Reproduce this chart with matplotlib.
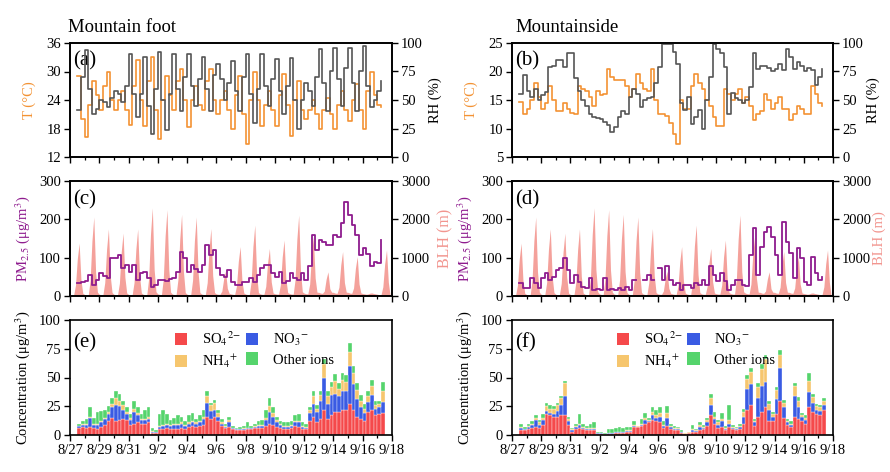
import numpy as np
import matplotlib
matplotlib.use("Agg")
import matplotlib.pyplot as plt
from matplotlib.ticker import MultipleLocator, FixedLocator
from matplotlib.patches import Patch

plt.rcParams['font.family'] = ['Liberation Serif', 'DejaVu Serif']
plt.rcParams['mathtext.fontset'] = 'stix'

# ---------------- data ----------------
# x axis: days since 8/27 00:00
date_ticks = [0, 2, 4, 6, 8, 10, 12, 14, 16, 18, 20, 22]
date_labels = ['8/27', '8/29', '8/31', '9/2', '9/4', '9/6', '9/8', '9/10',
               '9/12', '9/14', '9/16', '9/18']
series_start = 0.5      # first 6-h record: 8/27 12:00
step_6h = 0.25
step_3h = 0.125

# Mountain foot: temperature (deg C) and RH (%), 6-hourly
T_foot = [29, 20,
          16.3, 23, 28, 25, 22, 27, 30, 24, 22, 24, 26, 22, 18.7, 27, 32.5, 24,
          18.5, 28, 33, 22, 15.8, 24, 29, 25, 22, 28, 30.5, 24, 18.3, 24, 27, 23,
          22, 28, 30.5, 24, 21, 24, 26, 22, 18, 25, 29, 21, 14.8, 24, 30, 24,
          18.5, 23, 26, 22, 18.5, 25, 29.5, 23, 16.5, 24, 28, 22, 20, 22, 24, 21,
          18, 22, 24.5, 21, 18, 23, 26, 22, 19.5, 24, 27.3, 22, 18, 26, 30, 25,
          23, 22.5]
RH_foot = [41, 70,
           94, 60, 38, 42, 50, 48, 44, 52, 58, 55, 48, 62, 90, 55, 35, 55,
           88, 45, 20, 60, 92, 50, 24, 55, 90, 60, 40, 70, 90, 62, 45, 68,
           88, 60, 40, 72, 82, 68, 50, 65, 84, 58, 40, 70, 90, 55, 30, 60,
           90, 62, 45, 68, 86, 58, 38, 62, 87, 50, 25, 50, 65, 58, 45, 70,
           95, 65, 40, 75, 96, 68, 45, 78, 96, 65, 40, 75, 97, 62, 44, 50,
           58, 67]

# Mountainside: temperature (deg C) and RH (%), 6-hourly
T_side = [14.6, 12.5, 13.5, 15, 18, 15.5, 13.5, 14.5, 17.5, 15, 13, 13,
          14.5, 13.5, 12.8, 12.5, 17.5, 17, 16.5, 15.5, 14, 16.5, 15.8, 16,
          20.5, 19, 18.5, 18.5, 18.5, 17.5, 15.5, 17, 19.5, 18, 17, 16.5,
          20.5, 15, 12.5, 12.5, 12.2, 11, 9, 7.3, 15, 13.5, 13.5, 17.5,
          19.5, 18, 17, 15, 14, 12, 10.5, 10.5, 17, 16, 15, 16,
          17, 14.5, 15.5, 14, 11.5, 12.5, 13, 16, 15, 13.5, 14.5, 15.5,
          13.5, 13.5, 11.5, 12.5, 14, 13.5, 12.5, 12.5, 17.5, 16, 14.5, 14]
RH_side = [55, 72, 58, 53, 60, 50, 54, 57, 79, 80, 85, 85,
           79, 91, 91, 69, 58, 50, 45, 38, 35, 34, 33, 31,
           28, 22, 26, 35, 40, 38, 53, 60, 55, 44, 50, 52,
           53, 65, 79, 99, 99, 99, 92, 82, 47, 41, 53, 29,
           35, 41, 25, 50, 70, 99, 95, 91, 79, 38, 56, 52,
           50, 47, 50, 61, 91, 77, 80, 80, 78, 75, 77, 82,
           76, 95, 88, 77, 83, 80, 75, 78, 76, 63, 70, 77]

# PM2.5 (ug/m3), 6-hourly
PM_foot = [33, 37, 40, 55, 29, 42, 59, 52, 48, 98, 100, 107,
           72, 81, 63, 81, 42, 60, 63, 46, 24, 30, 42, 42,
           40, 44, 46, 63, 116, 98, 63, 81, 70, 63, 81, 133,
           107, 120, 72, 55, 50, 68, 37, 29, 29, 37, 37, 46,
           37, 55, 72, 81, 81, 59, 50, 63, 33, 40, 59, 46,
           42, 59, 42, 77, 159, 120, 146, 140, 133, 133, 159, 155,
           190, 246, 211, 185, 159, 107, 124, 110, 77, 90, 85, 146]
PM_side = [33, 20, 22, 46, 33, 20, 46, 59, 42, 50, 68, 72,
           98, 68, 33, 55, 37, 24, 20, 46, 16, 18, 16, 46,
           16, 18, 16, 20, 16, 24, 16, 42, np.nan, np.nan, 42, 55,
           42, np.nan, 72, 42, 77, 42, 29, 33, 16, 29, 29, 20,
           33, 29, 42, 29, 77, 55, 38, 59, 38, 16, 29, 42,
           42, 29, 26, 107, 177, 55, 129, 168, 181, 155, 107, 55,
           194, 142, 112, 47, 124, 98, 37, 29, 103, 59, 42, 50]

# Boundary layer height (m), 3-hourly from 8/27 00:00
BLH = [30, 25, 30, 280, 970, 1380, 410, 70,
       40, 30, 35, 410, 1440, 2060, 620, 100,
       45, 35, 35, 350, 1220, 1750, 520, 90,
       45, 35, 35, 330, 1150, 1640, 490, 80,
       40, 35, 35, 350, 1220, 1750, 520, 80,
       45, 35, 40, 460, 1610, 2300, 690, 110,
       55, 40, 40, 450, 1570, 2250, 680, 100,
       50, 40, 40, 430, 1490, 2130, 640, 90,
       45, 35, 35, 410, 1440, 2060, 620, 90,
       50, 40, 40, 350, 1230, 1760, 530, 90,
       55, 45, 45, 130, 450, 650, 200, 70,
       55, 45, 40, 260, 900, 1290, 390, 80,
       50, 40, 40, 370, 1300, 1850, 560, 90,
       55, 45, 45, 250, 870, 1240, 370, 80,
       60, 50, 50, 290, 1020, 1460, 440, 90,
       65, 50, 50, 420, 1480, 2110, 630, 110,
       75, 60, 55, 310, 1080, 1550, 470, 100,
       95, 75, 70, 130, 440, 630, 190, 100,
       95, 75, 70, 230, 810, 1160, 350, 100,
       95, 75, 70, 210, 720, 1030, 310, 80,
       65, 55, 45, 55, 75, 80, 65, 55,
       45, 35, 35, 240, 840, 1200, 360, 0]

# Water-soluble ions (ug/m3), 6-hourly, Mountain foot
SO4_foot = [6, 7, 6, 7, 6, 5, 7, 9, 12, 15, 12, 13, 14, 13, 9, 10, 11, 10, 10, 11,
            2, 2, 5, 5, 6, 5, 5, 5, 6, 5, 7, 8, 7, 8, 9, 16, 14, 16, 12, 8,
            6, 7, 5, 4, 4, 4, 5, 5, 6, 6, 6, 8, 10, 9, 7, 6, 5, 5, 6, 8,
            7, 5, 5, 12, 16, 11, 14, 22, 14, 17, 20, 20, 22, 22, 27, 22,
            16, 14, 12, 20, 22, 17, 18, 19]
NO3_foot = [1.5, 2, 3, 8, 3, 4, 4, 5, 6, 9, 14, 12, 8, 5, 4, 10, 6, 3, 3, 3,
            1, 0.5, 2, 3, 3, 3, 4, 4, 4, 3, 3, 3, 3, 3, 5, 12, 7, 6, 4, 2,
            1, 4, 1, 1, 1, 1, 1, 1, 1, 2, 2, 5, 10, 7, 4, 3, 2, 2, 2, 3,
            4, 2, 1, 7, 11, 9, 16, 28, 13, 18, 16, 14, 16, 16, 33, 22,
            15, 10, 7, 9, 13, 6, 6, 10]
NH4_foot = [0.5, 0.5, 1, 1, 1, 1, 1, 1, 2, 3, 6, 5, 4, 2, 2, 3, 2, 1, 1, 2,
            0.5, 0.2, 1, 1, 1, 1, 1, 1, 1, 1, 1, 1, 1, 1, 2, 6, 5, 6, 3, 1,
            1, 2, 0.5, 0.3, 0.5, 1, 0.5, 0.5, 1, 1, 1, 2, 5, 3, 2, 1, 1, 1, 1, 1,
            1, 1, 1, 3, 7, 3, 5, 12, 7, 7, 11, 6, 10, 8, 12, 10,
            8, 6, 4, 5, 8, 3, 3, 9]
OTH_foot = [2, 2.5, 4, 8, 5, 10, 9, 7, 5, 5, 6, 6, 4, 4, 3, 7, 5, 4, 8, 8,
            2.5, 1.3, 10, 13, 8, 4, 5, 7, 5, 3, 6, 7, 3, 5, 6, 4, 2, 2, 3, 3,
            2, 3, 1.5, 0.7, 1.5, 2, 4.5, 1.5, 2, 3, 4, 7, 7, 5, 3, 2, 3, 3, 3, 5,
            6, 3, 3, 2, 4, 3, 3, 4, 4, 4, 6, 5, 6, 6, 8, 6,
            6, 5, 4, 4, 5, 4, 3, 8]

# Water-soluble ions (ug/m3), 6-hourly, Mountainside
SO4_side = [4, 4, 5, 6, 7, 6, 9, 18, 17, 16, 16, 17, 17, 9, 3, 5, 6, 5, 4, 4,
            4, 1, 1, 0.5, 1, 1, 2, 2, 2, 3, 3, 7, 7, 8, 10, 11, 13, 12, 11, 6,
            8, 5, 4, 4, 2, 1, 1.5, 3, 3, 4, 5, 8, 17, 10, 6, 7, 4, 7, 5, 4,
            5, 10, 22, 26, 8, 16, 20, 24, 12, 12, 18, 30, 15, 9, 7, 16,
            14, 12, 10, 24, 20, 18, 17, 22]
NO3_side = [2, 1, 2, 3, 6, 3, 4, 3, 2, 2, 5, 9, 17, 3, 1, 2, 3, 1, 1, 1,
            1, 0.5, 0.5, 0.3, 0.5, 0.5, 0.5, 0.5, 0.5, 0.5, 0.5, 1, 0.3, 1, 3, 1,
            4, 3, 5, 2, 7, 2, 1, 1, 0.5, 0.3, 0.5, 1, 0.5, 3, 1, 3, 9, 4, 3, 5,
            1, 3, 1, 1, 2, 6, 18, 18, 3, 16, 23, 22, 10, 4, 13, 28, 9, 2, 2, 18,
            10, 4, 3, 13, 8, 4, 4, 4]
NH4_side = [1, 0.5, 1, 1, 2, 2, 2, 4, 4, 5, 5, 6, 11, 2, 1, 1, 1, 1, 1, 1,
            1, 0.5, 0.5, 0.2, 0.5, 0.5, 0.5, 0.5, 0.5, 0.5, 0.5, 1, 0.2, 1, 2, 1,
            3, 2, 3, 1, 4, 1, 1, 1, 0.5, 0.2, 0.5, 1, 0.5, 2, 1, 2, 6, 2, 2, 2,
            1, 3, 1, 1, 1, 4, 9, 11, 1, 10, 14, 20, 5, 2, 8, 12, 4, 1, 1, 9,
            6, 1, 2, 10, 5, 3, 3, 4]
OTH_side = [3, 1.5, 2, 2, 2, 2, 3, 3, 3, 2, 2, 2, 2, 2, 1, 2, 8, 3, 2, 4,
            5, 1, 1, 1, 3, 3, 3, 4, 3, 3, 3, 3, 0.5, 4, 4, 2,
            4, 5, 5, 3, 6, 2, 2, 1, 1, 0.5, 0.5, 4, 1, 2, 2, 2, 4, 4, 2, 5,
            2, 13, 2, 1, 2, 3, 3, 3, 2, 3, 5, 4, 3, 2, 3, 4, 2, 2, 2, 2,
            3, 2, 2, 7, 3, 2, 2, 2]

ion_names = ['SO$_4$$^{2\\mathsf{-}}$', 'NO$_3$$^{\\mathsf{-}}$', 'NH$_4$$^{+}$', 'Other ions']
ion_colors = ['#F5494B', '#3A5BE3', '#F6C66E', '#55D46C']

# ---------------- style ----------------
C_T = '#F39233'
C_RH = '#555555'
C_PM = '#8E1B8E'
C_BLH = '#F4A19B'
C_BLH_LABEL = '#F2958F'
TICK_FS = 10.5
LAB_FS = 10.5

fig = plt.figure(figsize=(8.9, 4.72), dpi=100)
W, H = 890.0, 472.0
cols = [(70, 392), (512, 833)]
rows = [(43, 157), (181, 296), (320, 435)]


def make_ax(c, r):
    x0, x1 = cols[c]
    y0, y1 = rows[r]
    return fig.add_axes([x0 / W, 1 - y1 / H, (x1 - x0) / W, (y1 - y0) / H])


def style(ax, bottom_labels):
    ax.set_xlim(0, 22)
    ax.xaxis.set_major_locator(FixedLocator(date_ticks))
    ax.xaxis.set_minor_locator(MultipleLocator(1))
    if bottom_labels:
        ax.set_xticklabels(date_labels)
    else:
        ax.set_xticklabels([])
    ax.tick_params(axis='both', which='major', direction='out', length=4.5,
                   width=1.0, labelsize=TICK_FS, pad=2)
    ax.tick_params(axis='x', which='minor', direction='out', length=2.5, width=0.9)
    for s in ax.spines.values():
        s.set_linewidth(1.2)


def tseries(n, step):
    return series_start + step * np.arange(n)


letters = iter(['(a)', '(b)', '(c)', '(d)', '(e)', '(f)'])

# ---- row 1: T and RH ----
for c, (T, RH, ylim, yt) in enumerate([(T_foot, RH_foot, (12, 36), 6),
                                       (T_side, RH_side, (5, 25), 5)]):
    ax = make_ax(c, 0)
    ax2 = ax.twinx()
    ax.step(tseries(len(T), step_6h), T, where='post', color=C_T, lw=1.2)
    ax2.step(tseries(len(RH), step_6h), RH, where='post', color=C_RH, lw=1.2)
    ax.set_ylim(*ylim)
    ax.yaxis.set_major_locator(MultipleLocator(yt))
    ax2.set_ylim(0, 100)
    ax2.yaxis.set_major_locator(MultipleLocator(25))
    style(ax, False)
    style(ax2, False)
    ax.set_ylabel('T (°C)', color=C_T, fontsize=LAB_FS, labelpad=7.5)
    ax2.set_ylabel('RH (%)', color='black', fontsize=LAB_FS, labelpad=4 if c == 0 else 2)
    ax.text(0.01, 0.84, next(letters), transform=ax.transAxes, fontsize=15,
            va='center', ha='left', zorder=10)

# ---- row 2: PM2.5 and BLH ----
for c, PM in enumerate([PM_foot, PM_side]):
    ax = make_ax(c, 1)
    ax2 = ax.twinx()
    ax.set_zorder(ax2.get_zorder() + 1)
    ax.patch.set_visible(False)
    tb = step_3h * np.arange(len(BLH))
    ax2.fill_between(tb, 0, BLH, color=C_BLH, lw=0)
    ax.step(tseries(len(PM), step_6h), PM, where='post', color=C_PM, lw=1.3)
    ax.set_ylim(0, 300)
    ax.yaxis.set_major_locator(MultipleLocator(100))
    ax2.set_ylim(0, 3000)
    ax2.yaxis.set_major_locator(MultipleLocator(1000))
    style(ax, False)
    style(ax2, False)
    ax.set_ylabel('PM$_{2.5}$ (μg/m$^3$)', color=C_PM, fontsize=LAB_FS, labelpad=5)
    ax2.set_ylabel('BLH (m)', color=C_BLH_LABEL,
                   fontsize=LAB_FS + 1 if c == 0 else LAB_FS,
                   labelpad=5 if c == 0 else 1)
    ax.text(0.01, 0.835, next(letters), transform=ax.transAxes, fontsize=15,
            va='center', ha='left')

# ---- row 3: ions ----
for c, comps in enumerate([(SO4_foot, NO3_foot, NH4_foot, OTH_foot),
                           (SO4_side, NO3_side, NH4_side, OTH_side)]):
    ax = make_ax(c, 2)
    bottom = np.zeros(len(comps[0]))
    tt = tseries(len(comps[0]), step_6h)
    for vals, col in zip(comps, ion_colors):
        vals = np.asarray(vals, dtype=float)
        ax.bar(tt, vals, width=step_6h, align='edge', bottom=bottom, color=col,
               edgecolor='white', linewidth=0.25)
        bottom = bottom + vals
    ax.set_ylim(0, 100)
    ax.yaxis.set_major_locator(MultipleLocator(25))
    style(ax, True)
    ax.set_ylabel('Concentration (μg/m$^3$)', fontsize=LAB_FS, labelpad=5)
    ax.text(0.01, 0.80, next(letters), transform=ax.transAxes, fontsize=15,
            va='center', ha='left')
    handles = [Patch(facecolor=col, edgecolor='none') for col in ion_colors]
    order = [0, 2, 1, 3]
    ax.legend([handles[i] for i in order], [ion_names[i] for i in order],
              ncol=2, loc='upper left', bbox_to_anchor=(0.29, 1.02),
              frameon=False, fontsize=10.5, handlelength=0.85, handleheight=0.9,
              handletextpad=1.0, columnspacing=0.35, labelspacing=0.3,
              borderpad=0.3)

fig.text(68 / W, 1 - 28 / H, 'Mountain foot', fontsize=13.5, va='center', ha='left')
fig.text(515 / W, 1 - 28 / H, 'Mountainside', fontsize=13.5, va='center', ha='left')

fig.savefig('out.png', dpi=100, facecolor='white')
